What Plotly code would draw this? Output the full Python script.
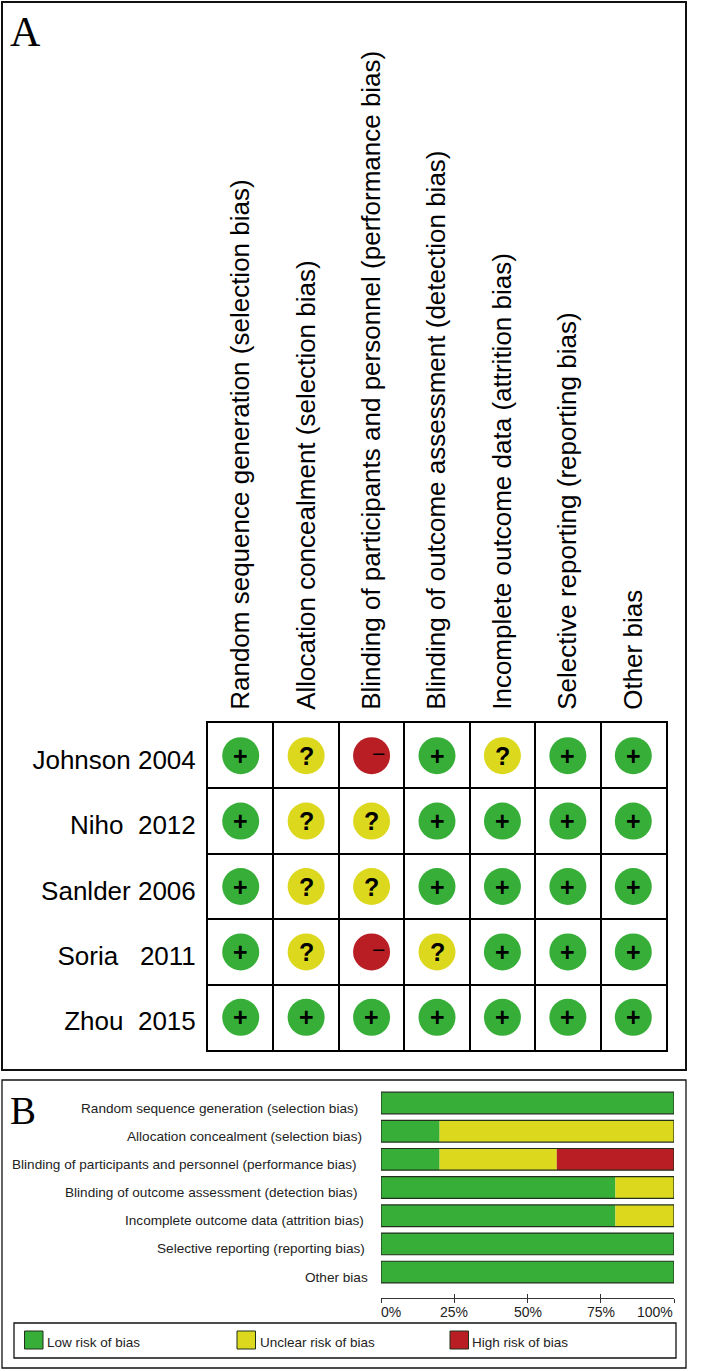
import plotly.graph_objects as go

W, H = 712, 1371

# panel A data
studies = ["Johnson 2004", "Niho\u00a0\u00a02012", "Sanlder 2006", "Soria\u00a0\u00a0\u00a02011", "Zhou\u00a0\u00a02015"]
domains = [
    "Random sequence generation (selection bias)",
    "Allocation concealment (selection bias)",
    "Blinding of participants and personnel (performance bias)",
    "Blinding of outcome assessment (detection bias)",
    "Incomplete outcome data (attrition bias)",
    "Selective reporting (reporting bias)",
    "Other bias",
]
johnson = ["+", "?", "-", "+", "?", "+", "+"]
niho = ["+", "?", "?", "+", "+", "+", "+"]
sanlder = ["+", "?", "?", "+", "+", "+", "+"]
soria = ["+", "?", "-", "?", "+", "+", "+"]
zhou = ["+", "+", "+", "+", "+", "+", "+"]
ratings = [johnson, niho, sanlder, soria, zhou]

# panel B data, percent of studies
low_risk = [100, 20, 20, 80, 80, 100, 100]
unclear_risk = [0, 80, 40, 20, 20, 0, 0]
high_risk = [0, 0, 40, 0, 0, 0, 0]
pct_ticks = [0, 25, 50, 75, 100]
pct_labels = ["0%", "25%", "50%", "75%", "100%"]
legend_names = ["Low risk of bias", "Unclear risk of bias", "High risk of bias"]

GREEN, YELLOW, RED = "#36ae37", "#dcd81e", "#b81e23"
colors = {"+": GREEN, "?": YELLOW, "-": RED}
glyphs = {"+": "<b>+</b>", "?": "<b>?</b>", "-": "\u2212"}
glyph_sizes = {"+": 25, "?": 25, "-": 23}
glyph_shift = {"+": (0, 0), "?": (0, 0), "-": (7, 2)}

def px(x):
    return x / W

def py(y):
    return 1 - y / H

fig = go.Figure()

# traffic light dots, glyphs go on as annotations so they can be nudged in pixels
for key in ["+", "?", "-"]:
    xs, ys = [], []
    for r, row in enumerate(ratings):
        for c, val in enumerate(row):
            if val == key:
                xs.append(c)
                ys.append(r)
                fig.add_annotation(text=glyphs[key], xref="x", yref="y", x=c, y=r, showarrow=False,
                                   xshift=glyph_shift[key][0], yshift=glyph_shift[key][1],
                                   font=dict(size=glyph_sizes[key], color="black"))
    fig.add_trace(go.Scatter(x=xs, y=ys, mode="markers", xaxis="x", yaxis="y",
                             marker=dict(size=37, color=colors[key], line=dict(width=0)), showlegend=False))

# summary bars, drawn with explicit bases so an outline can sit on top
starts_unclear = low_risk
starts_high = [a + b for a, b in zip(low_risk, unclear_risk)]
for vals, base, col in [(low_risk, [0] * 7, GREEN), (unclear_risk, starts_unclear, YELLOW), (high_risk, starts_high, RED)]:
    fig.add_trace(go.Bar(x=vals, y=domains, base=base, orientation="h", xaxis="x2", yaxis="y2",
                         marker=dict(color=col, line=dict(width=0)), showlegend=False))
fig.add_trace(go.Bar(x=[100] * 7, y=domains, orientation="h", xaxis="x2", yaxis="y2",
                     marker=dict(color="rgba(0,0,0,0)", line=dict(width=1.2, color="#20301c")), showlegend=False))
# carries the upward half of the tick marks
fig.add_trace(go.Scatter(x=pct_ticks, y=[0] * 5, mode="markers", marker=dict(opacity=0), xaxis="x3", yaxis="y3",
                         showlegend=False))

fig.update_layout(
    width=W, height=H, margin=dict(l=0, r=0, t=0, b=0, pad=0, autoexpand=False),
    paper_bgcolor="white", plot_bgcolor="rgba(0,0,0,0)", barmode="overlay", bargap=0.23,
    font=dict(family="Liberation Sans", color="black"),
    xaxis=dict(domain=[px(208), px(666)], range=[-0.5, 6.5], side="top", anchor="y",
               tickvals=list(range(7)), ticktext=domains, tickangle=-90, ticks="",
               ticklabelstandoff=6, tickfont=dict(size=26), showgrid=False, zeroline=False,
               showline=True, linecolor="black", linewidth=2, mirror=True,
               minor=dict(tickvals=[i - 0.5 for i in range(8)], showgrid=True, gridcolor="black", gridwidth=2, ticks="")),
    yaxis=dict(domain=[py(1050), py(723)], range=[4.5, -0.5], anchor="x",
               tickvals=list(range(5)), ticktext=studies, ticks="",
               ticklabelstandoff=5, ticklabelshift=-4, tickfont=dict(size=26), showgrid=False, zeroline=False,
               showline=True, linecolor="black", linewidth=2, mirror=True,
               minor=dict(tickvals=[i - 0.5 for i in range(6)], showgrid=True, gridcolor="black", gridwidth=2, ticks="")),
    xaxis2=dict(domain=[px(381), px(674)], range=[0, 100], anchor="free", position=py(1298),
                tickvals=pct_ticks, showticklabels=False, ticks="outside", ticklen=4, tickwidth=1.2,
                tickcolor="#333", showline=True, linecolor="#333", linewidth=1.2, showgrid=False, zeroline=False),
    yaxis2=dict(domain=[py(1286.2), py(1088.5)], anchor="x2", autorange="reversed", type="category",
                categoryorder="array", categoryarray=domains, showticklabels=False, ticks="",
                showgrid=False, zeroline=False, showline=False),
    xaxis3=dict(domain=[px(381), px(674)], range=[0, 100], anchor="y3", tickvals=pct_ticks,
                showticklabels=False, ticks="inside", ticklen=4, tickwidth=1.2, tickcolor="#333",
                showline=False, showgrid=False, zeroline=False),
    yaxis3=dict(domain=[py(1298), py(1290)], anchor="x3", visible=False),
)

# panel frames, legend box and legend swatches
shapes = [
    dict(x0=px(2), x1=px(686), y0=py(2), y1=py(1070), lw=2),
    dict(x0=px(2), x1=px(686), y0=py(1080), y1=py(1368), lw=1.3),
    dict(x0=px(14), x1=px(676), y0=py(1323), y1=py(1358), lw=1.3),
]
for s in shapes:
    fig.add_shape(type="rect", xref="paper", yref="paper", x0=s["x0"], x1=s["x1"], y0=s["y0"], y1=s["y1"],
                  line=dict(color="#111", width=s["lw"]), layer="below")

swatch_left = [24.5, 237, 450]
text_left = [45, 257.5, 470]
for name, col, sx, tx in zip(legend_names, [GREEN, YELLOW, RED], swatch_left, text_left):
    fig.add_shape(type="rect", xref="paper", yref="paper", x0=px(sx), x1=px(sx + 18.5), y0=py(1331), y1=py(1349),
                  fillcolor=col, line=dict(color="#20301c", width=1))
    fig.add_annotation(text=name, xref="paper", yref="paper", x=px(tx), y=py(1342), xanchor="left", yanchor="middle",
                       showarrow=False, font=dict(size=13.5, color="#222"))

# bar labels are staggered in the source, so each gets its own right edge
label_right = [360, 364, 359, 359, 366, 367, 370]
for name, rx in zip(domains, label_right):
    fig.add_annotation(text=name, xref="paper", yref="y2", x=px(rx), y=name, xanchor="right", yanchor="middle",
                       yshift=-5, showarrow=False, font=dict(size=13.6, color="#222"))

pct_anchor = ["left", "center", "center", "center", "right"]
pct_shift = [-2, 0, 0, 0, 1]
for t, lab, anc, sh in zip(pct_ticks, pct_labels, pct_anchor, pct_shift):
    fig.add_annotation(text=lab, xref="x2", yref="paper", x=t, y=py(1312), xanchor=anc, yanchor="middle",
                       xshift=sh, showarrow=False, font=dict(size=14, color="#222"))

# panel letters
fig.add_annotation(text="A", xref="paper", yref="paper", x=px(8), y=py(32), xanchor="left", yanchor="middle",
                   showarrow=False, font=dict(size=42, family="Liberation Serif"))
fig.add_annotation(text="B", xref="paper", yref="paper", x=px(8), y=py(1110), xanchor="left", yanchor="middle",
                   showarrow=False, font=dict(size=39, family="Liberation Serif"))

fig.write_html("out.html", config={"displayModeBar": False}, post_script="document.body.style.margin='0';")
